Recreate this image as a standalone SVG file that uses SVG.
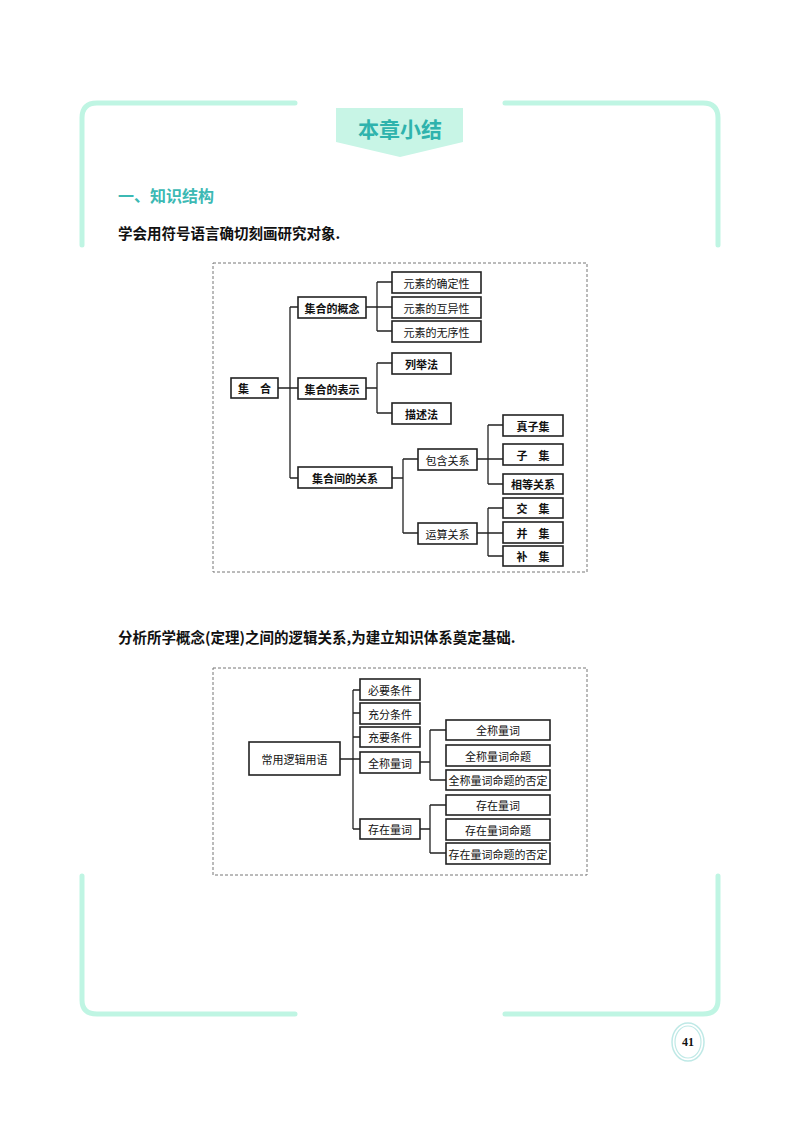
<svg xmlns="http://www.w3.org/2000/svg" width="800" height="1132" viewBox="0 0 800 1132">
<style>
.frame{fill:none;stroke:#bff5e3;stroke-width:5;stroke-linecap:round}
.b{fill:#fff;stroke:#222;stroke-width:1.6}
.t{font-family:"Noto Sans CJK SC",sans-serif;font-size:11px;fill:#111;text-anchor:middle;dominant-baseline:central}
.tb{font-weight:bold}
.c{fill:none;stroke:#222;stroke-width:1.3}
.dash{fill:none;stroke:#777;stroke-width:1;stroke-dasharray:3,2}
</style>
<rect width="800" height="1132" fill="#fff"/>
<g id="page-frame">
<path class="frame" d="M82 245 V118 Q82 103 97 103 H295"/>
<path class="frame" d="M505 103 H703 Q718 103 718 118 V245"/>
<path class="frame" d="M82 876 V1000 Q82 1014 97 1014 H295"/>
<path class="frame" d="M505 1014 H703 Q718 1014 718 1000 V876"/>
</g>
<g id="title">
<polygon points="336,108 463,108 463,142 400,157 336,142" fill="#c8f5e6"/>
<text x="400" y="128" font-family="Noto Sans CJK SC,sans-serif" font-size="21" font-weight="bold" fill="#2fb3ad" text-anchor="middle" dominant-baseline="central">本章小结</text>
</g>
<text x="118" y="195" font-family="Noto Sans CJK SC,sans-serif" font-size="16" font-weight="bold" fill="#3cb9b4" dominant-baseline="central">一、知识结构</text>
<text x="118" y="232" font-family="Noto Sans CJK SC,sans-serif" font-size="14.5" font-weight="bold" fill="#111" dominant-baseline="central">学会用符号语言确切刻画研究对象.</text>
<text x="118" y="636" font-family="Noto Sans CJK SC,sans-serif" font-size="14.5" font-weight="bold" fill="#111" dominant-baseline="central">分析所学概念(定理)之间的逻辑关系,为建立知识体系奠定基础.</text>

<rect class="dash" x="213" y="263" width="374" height="309"/>
<rect class="dash" x="213" y="668" width="374" height="207"/>

<g id="connectors">
<path class="c" d="M278 388 H298 M290 307 V478 M290 307 H298 M290 478 H298"/>
<path class="c" d="M366 307 H377 M377 282 V331 M377 282 H392 M377 307 H392 M377 331 H392"/>
<path class="c" d="M366 388 H377 M377 363 V413 M377 363 H392 M377 413 H392"/>
<path class="c" d="M392 478 H403 M403 459 V533 M403 459 H418 M403 533 H418"/>
<path class="c" d="M477 459 H503 M488 425 V484 M488 425 H503 M488 484 H503"/>
<path class="c" d="M477 533 H503 M488 508 V556 M488 508 H503 M488 556 H503"/>
<path class="c" d="M340 759 H360 M353 690 V829 M353 690 H360 M353 713 H360 M353 737 H360 M353 829 H360"/>
<path class="c" d="M420 762 H430 M430 730 V780 M430 730 H446 M430 780 H446"/>
<path class="c" d="M420 829 H430 M430 805 V853 M430 805 H446 M430 853 H446"/>
</g>

<g id="n-jihe"><rect class="b" x="231" y="378" width="47" height="20"/><text class="t tb" x="254.5" y="388">集　合</text></g>
<g id="n-gainian"><rect class="b" x="298" y="297" width="68" height="21"/><text class="t tb" x="332" y="307.5">集合的概念</text></g>
<g id="n-biaoshi"><rect class="b" x="298" y="378" width="68" height="21"/><text class="t tb" x="332" y="388.5">集合的表示</text></g>
<g id="n-guanxi"><rect class="b" x="298" y="467" width="94" height="21"/><text class="t tb" x="345" y="477.5">集合间的关系</text></g>
<g id="n-queding"><rect class="b" x="392" y="272" width="89" height="21"/><text class="t" x="436.5" y="282.5">元素的确定性</text></g>
<g id="n-huyi"><rect class="b" x="392" y="297" width="89" height="21"/><text class="t" x="436.5" y="307.5">元素的互异性</text></g>
<g id="n-wuxu"><rect class="b" x="392" y="321" width="89" height="21"/><text class="t" x="436.5" y="331.5">元素的无序性</text></g>
<g id="n-liejv"><rect class="b" x="392" y="353" width="59" height="21"/><text class="t tb" x="421.5" y="363.5">列举法</text></g>
<g id="n-miaoshu"><rect class="b" x="392" y="403" width="59" height="21"/><text class="t tb" x="421.5" y="413.5">描述法</text></g>
<g id="n-baohan"><rect class="b" x="418" y="449" width="59" height="21"/><text class="t" x="447.5" y="459.5">包含关系</text></g>
<g id="n-yunsuan"><rect class="b" x="418" y="523" width="59" height="21"/><text class="t" x="447.5" y="533.5">运算关系</text></g>
<g id="n-zhenziji"><rect class="b" x="503" y="415" width="60" height="21"/><text class="t tb" x="533" y="425.5">真子集</text></g>
<g id="n-ziji"><rect class="b" x="503" y="444" width="60" height="21"/><text class="t tb" x="533" y="454.5">子　集</text></g>
<g id="n-xiangdeng"><rect class="b" x="503" y="474" width="60" height="20"/><text class="t tb" x="533" y="484">相等关系</text></g>
<g id="n-jiao"><rect class="b" x="503" y="498" width="60" height="20"/><text class="t tb" x="533" y="508">交　集</text></g>
<g id="n-bing"><rect class="b" x="503" y="522" width="60" height="21"/><text class="t tb" x="533" y="532.5">并　集</text></g>
<g id="n-bu"><rect class="b" x="503" y="546" width="60" height="20"/><text class="t tb" x="533" y="556">补　集</text></g>

<g id="m-root"><rect class="b" x="249" y="742" width="91" height="33"/><text class="t" x="294.5" y="758.5">常用逻辑用语</text></g>
<g id="m-biyao"><rect class="b" x="360" y="679" width="60" height="21"/><text class="t" x="390" y="689.5">必要条件</text></g>
<g id="m-chongfen"><rect class="b" x="360" y="703" width="60" height="21"/><text class="t" x="390" y="713.5">充分条件</text></g>
<g id="m-chongyao"><rect class="b" x="360" y="727" width="60" height="20"/><text class="t" x="390" y="737">充要条件</text></g>
<g id="m-quancheng"><rect class="b" x="360" y="752" width="60" height="21"/><text class="t" x="390" y="762.5">全称量词</text></g>
<g id="m-cunzai"><rect class="b" x="360" y="819" width="60" height="20"/><text class="t" x="390" y="829">存在量词</text></g>
<g id="m-qc1"><rect class="b" x="446" y="720" width="104" height="20"/><text class="t" x="498" y="730">全称量词</text></g>
<g id="m-qc2"><rect class="b" x="446" y="745" width="104" height="21"/><text class="t" x="498" y="755.5">全称量词命题</text></g>
<g id="m-qc3"><rect class="b" x="446" y="770" width="104" height="20"/><text class="t" x="498" y="780">全称量词命题的否定</text></g>
<g id="m-cz1"><rect class="b" x="446" y="795" width="104" height="20"/><text class="t" x="498" y="805">存在量词</text></g>
<g id="m-cz2"><rect class="b" x="446" y="819" width="104" height="21"/><text class="t" x="498" y="829.5">存在量词命题</text></g>
<g id="m-cz3"><rect class="b" x="446" y="843" width="104" height="21"/><text class="t" x="498" y="853.5">存在量词命题的否定</text></g>

<g id="page-number">
<ellipse cx="688" cy="1042" rx="16" ry="19" fill="none" stroke="#bfe9e6" stroke-width="1.5"/>
<ellipse cx="688" cy="1042" rx="13" ry="16" fill="none" stroke="#bfe9e6" stroke-width="1.2"/>
<text x="688" y="1042" font-family="Liberation Serif,serif" font-size="12" font-weight="bold" fill="#111" text-anchor="middle" dominant-baseline="central">41</text>
</g>
</svg>
